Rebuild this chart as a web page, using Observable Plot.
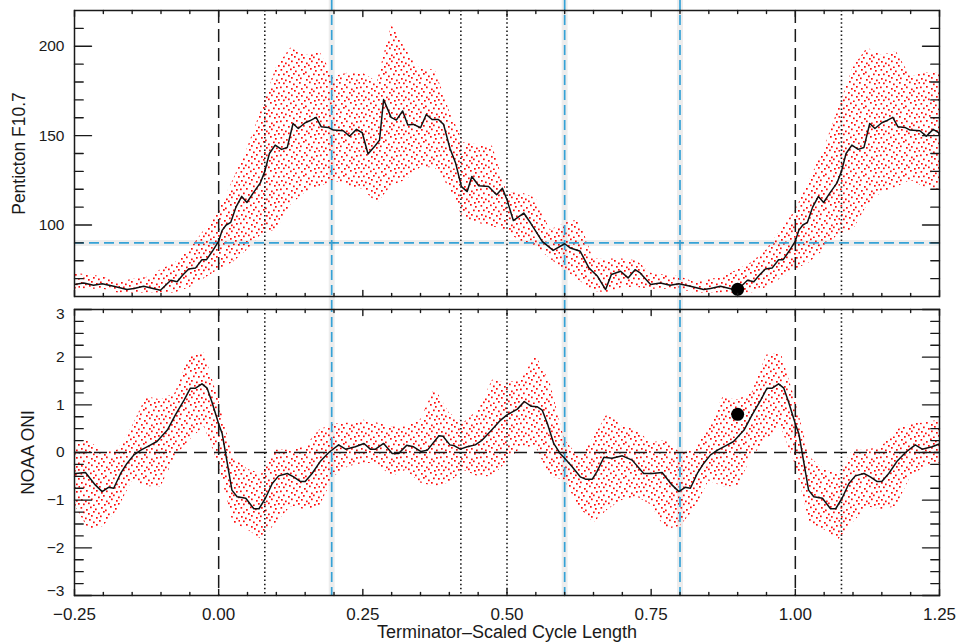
<!DOCTYPE html>
<html>
<head>
<meta charset="utf-8">
<script src="https://cdn.jsdelivr.net/npm/d3@7"></script>
<script src="https://cdn.jsdelivr.net/npm/@observablehq/plot@0.6"></script>
<style>
  body { margin: 0; background: #fff; }
  #chart { position: relative; width: 956px; height: 642px; font-family: "Liberation Sans", Arial, Helvetica, sans-serif; }
  #topPanel { position: absolute; left: 0; top: 0; }
  #bottomPanel { position: absolute; left: 0; top: 302px; }
  svg { overflow: visible; }
</style>
</head>
<body>
<svg id="patternDefs" width="0" height="0" style="position:absolute">
  <defs>
    <pattern id="reddots" patternUnits="userSpaceOnUse" width="40" height="34"></pattern>
  </defs>
</svg>
<div id="chart">
  <div id="topPanel"></div>
  <div id="bottomPanel"></div>
</div>
<script>
// ---------- data (one terminator-scaled cycle, repeated across the axis as in the original) ----------
const fluxPhase = [0.000,0.006,0.013,0.021,0.030,0.040,0.049,0.060,0.072,0.080,0.088,0.098,0.109,0.119,0.129,0.138,0.150,0.158,0.169,0.178,0.190,0.199,0.216,0.227,0.239,0.249,0.259,0.271,0.279,0.286,0.299,0.308,0.319,0.328,0.338,0.350,0.360,0.370,0.381,0.390,0.401,0.411,0.421,0.431,0.439,0.451,0.468,0.482,0.492,0.500,0.511,0.529,0.541,0.561,0.580,0.600,0.610,0.627,0.642,0.657,0.671,0.681,0.697,0.710,0.722,0.731,0.749,0.766,0.783,0.798,0.818,0.841,0.853,0.870,0.888,0.899,0.917,0.928,0.937,0.948,0.960,0.971,0.979,0.989];
const fluxValue = [91,97,100,101.5,110,116,112.6,118,123.4,130,140,144.7,142.3,143.4,156.8,154,157.2,158.3,160.2,154.9,154.6,153.1,152.7,149.7,153.5,151.6,139.7,144.2,147.5,170.2,160.2,158.7,163.8,155.9,156.3,154.4,161.8,159,159,156.3,142.9,134.5,121.5,118.7,127.1,122,121.5,116.9,120.6,114.1,102.5,106.7,101.1,90.8,85.8,89.5,87.1,85.3,76,71.3,63.9,72.3,74.1,70.4,75,73.2,66.7,67.6,66.3,67.1,65.7,63.9,64.5,65.7,64.3,63.5,69.1,68.2,71.7,75.4,76,80.6,80.6,85.3];

const oniPhase = [0.000,0.006,0.015,0.023,0.032,0.047,0.061,0.070,0.081,0.093,0.104,0.119,0.130,0.142,0.150,0.162,0.176,0.191,0.208,0.220,0.237,0.252,0.263,0.272,0.286,0.301,0.312,0.326,0.338,0.351,0.362,0.382,0.389,0.401,0.409,0.419,0.431,0.445,0.457,0.471,0.489,0.500,0.518,0.530,0.542,0.552,0.561,0.570,0.581,0.592,0.600,0.613,0.627,0.636,0.648,0.656,0.668,0.682,0.700,0.717,0.737,0.752,0.769,0.786,0.798,0.809,0.818,0.830,0.841,0.853,0.865,0.879,0.893,0.911,0.925,0.940,0.951,0.960,0.971,0.980,0.988,0.997];
const oniValue = [0.60,0.40,-0.23,-0.79,-0.93,-0.96,-1.18,-1.18,-0.96,-0.65,-0.49,-0.44,-0.51,-0.61,-0.61,-0.44,-0.19,0.00,0.16,0.07,0.12,0.19,0.07,0.07,0.19,-0.02,-0.02,0.15,0.12,0.02,0.05,0.35,0.34,0.16,0.14,0.07,0.12,0.16,0.26,0.44,0.68,0.79,0.91,1.07,0.97,0.96,0.89,0.61,0.19,-0.02,-0.12,-0.30,-0.51,-0.56,-0.56,-0.40,-0.10,-0.12,-0.07,-0.16,-0.44,-0.44,-0.42,-0.68,-0.82,-0.73,-0.75,-0.44,-0.23,-0.05,0.05,0.14,0.23,0.47,0.79,1.10,1.35,1.35,1.44,1.35,1.07,0.72];

// spread of the individual monthly values (red points): upper / lower edge
const spreadPhase = [0.000,0.025,0.050,0.075,0.100,0.125,0.150,0.175,0.200,0.225,0.250,0.275,0.300,0.325,0.350,0.375,0.400,0.425,0.450,0.475,0.500,0.525,0.550,0.575,0.600,0.625,0.650,0.675,0.700,0.725,0.750,0.775,0.800,0.825,0.850,0.875,0.900,0.925,0.950,0.975];
const fluxHigh = [108,125,143,165,188,199,195,197,183,185,185,180,212,198,187,187,164,146,145,144,118,118,115,97,101,103,81,81,81,80,73,72,71,68,69.5,70.6,75,79,86,97];
const fluxLow  = [75,79,86,95,97,111,118,121,125,121,120,112,122,125,132,132,121,103,101,99,97,90,88,81,75,69,63,62,65,65,64,64,64,62,62,62,62,62,65,70];
const oniHigh  = [1.10,-0.10,-0.35,-0.45,0.05,0.05,0.12,0.47,0.60,0.62,0.68,0.62,0.54,0.54,0.68,1.35,0.83,0.62,0.89,1.52,1.46,1.52,2.04,1.46,0.26,-0.09,0.30,0.83,0.54,0.47,0.20,0.25,0.00,0.05,0.54,1.17,1.10,1.25,2.04,2.10];
const oniLow   = [-0.25,-1.48,-1.62,-1.83,-1.48,-1.14,-1.20,-1.14,-0.51,-0.30,-0.23,-0.23,-0.51,-0.37,-0.64,-0.72,-0.64,-0.37,-0.51,-0.51,-0.20,0.10,0.12,-0.51,-0.58,-1.14,-1.48,-1.20,-1.00,-0.93,-1.10,-1.62,-1.55,-1.20,-0.60,-0.72,-0.72,-0.09,0.26,0.54];

// reference lines and highlighted point
const cycleEdgeX = [0, 1];
const dottedX = [0.08, 0.42, 0.50, 1.08];
const blueX = [0.196, 0.60, 0.80];
const blueFluxY = [90];
const nowPhase = 0.90, nowFlux = 64, nowOni = 0.80;

// axis ticks and labels
const xDomain = [-0.25, 1.25];
const xMajorTicks = [-0.25, 0, 0.25, 0.5, 0.75, 1.0, 1.25];
const xMinorTicks = [-0.2,-0.15,-0.1,-0.05,0.05,0.1,0.15,0.2,0.3,0.35,0.4,0.45,0.55,0.6,0.65,0.7,0.8,0.85,0.9,0.95,1.05,1.1,1.15,1.2];
const fluxDomain = [60, 220];
const fluxMajorTicks = [100, 150, 200];
const fluxMinorTicks = [70, 80, 90, 110, 120, 130, 140, 160, 170, 180, 190, 210];
const oniDomain = [-3, 3];
const oniMajorTicks = [-3, -2, -1, 0, 1, 2, 3];
const oniMinorTicks = [-2.75,-2.5,-2.25,-1.75,-1.5,-1.25,-0.75,-0.5,-0.25,0.25,0.5,0.75,1.25,1.5,1.75,2.25,2.5,2.75];
const fluxTitle = "Penticton F10.7";
const oniTitle = "NOAA ONI";
const xTitle = "Terminator\u2013Scaled Cycle Length";

(function () {
// ---------- texture used to render the scatter of red points ----------
const dotTile = [
  [0.5,1],[6,3],[10,0.5],[15,2.5],[21,1],[25,3.5],[30,0],[35,2],
  [3,5.5],[8,7],[13,5],[18,6.5],[23,5],[28,7.5],[33,5.5],[38,6],
  [1,10],[5,11.5],[11,9],[16,11],[20,9.5],[26,11],[31,10],[36,11.5],
  [3,14.5],[9,13],[13,15.5],[19,14],[24,16],[29,13.5],[34,15],[38.5,14],
  [0,18.5],[6,18],[11,20],[16,18],[21,20],[26,18.5],[31,20.5],[36,19],
  [3,22.5],[8,24],[14,22],[18,24.5],[23,23],[29,24],[33,22.5],[38,24.5],
  [1,27],[5,28.5],[11,26.5],[16,28],[21,27],[26,28.5],[31,26.5],[36,28],
  [3,31.5],[8,30.5],[13,32.5],[18,31],[24,32],[28,30.5],[34,32],[38,31]
];
d3.select("#reddots").selectAll("rect").data(dotTile).join("rect")
  .attr("x", d => d[0]).attr("y", d => d[1])
  .attr("width", 1.7).attr("height", 1.7).attr("fill", "#ff0a0a");

// ---------- build tables ----------
function wrapCycle(phases, columns) {
  const rows = [];
  for (const k of [-1, 0, 1]) {
    phases.forEach((p, i) => {
      const x = p + k;
      if (x >= -0.33 && x <= 1.33) {
        const r = {x};
        for (const [key, arr] of Object.entries(columns)) r[key] = arr[i];
        rows.push(r);
      }
    });
  }
  return rows.sort((a, b) => a.x - b.x);
}
const fluxLine = wrapCycle(fluxPhase, {v: fluxValue});
const oniLine = wrapCycle(oniPhase, {v: oniValue});
const fluxSpread = wrapCycle(spreadPhase, {hi: fluxHigh, lo: fluxLow});
const oniSpread = wrapCycle(spreadPhase, {hi: oniHigh, lo: oniLow});

// ---------- styling helpers ----------
const FONT = "Liberation Sans, Arial, Helvetica, sans-serif";
const INK = "#1a1a1a";
const BLUE = "#35a2d6";
const tickShape = {draw(context, l) { context.moveTo(0, 0); context.lineTo(0, -l); }};
function tickMarks(values, frameAnchor, rotate, length, channel) {
  return Plot.vector(values, {
    [channel]: d => d, frameAnchor, rotate, length, anchor: "start",
    shape: tickShape, stroke: INK, strokeWidth: 1.4
  });
}
function xTicks() {
  return [
    tickMarks(xMajorTicks, "bottom", 0, 6, "x"),
    tickMarks(xMinorTicks, "bottom", 0, 3, "x"),
    tickMarks(xMajorTicks, "top", 180, 6, "x"),
    tickMarks(xMinorTicks, "top", 180, 3, "x")
  ];
}
function yTicks(major, minor) {
  return [
    tickMarks(major, "left", 90, 17, "y"),
    tickMarks(minor, "left", 90, 8.7, "y"),
    tickMarks(major, "right", -90, 17, "y"),
    tickMarks(minor, "right", -90, 8.7, "y")
  ];
}
function blueLines(insetTop, insetBottom) {
  return [
    Plot.ruleX(blueX, {stroke: "#000", strokeOpacity: 0.07, strokeWidth: 6, insetTop, insetBottom}),
    Plot.ruleX(blueX, {stroke: BLUE, strokeWidth: 1.7, strokeDasharray: "10,5", insetTop, insetBottom})
  ];
}
function blackRefLines() {
  return [
    Plot.ruleX(cycleEdgeX, {stroke: INK, strokeWidth: 1.5, strokeDasharray: "13,6"}),
    Plot.ruleX(dottedX, {stroke: INK, strokeWidth: 1.6, strokeDasharray: "1.5,2.6"})
  ];
}
const yLabel = (extra) => Object.assign({frameAnchor: "left", dx: -10, textAnchor: "end", lineAnchor: "middle", fontSize: 15.5, fill: INK}, extra);

// ---------- top panel ----------
const topChart = Plot.plot({
  width: 956, height: 302,
  marginTop: 10, marginBottom: 6, marginLeft: 74, marginRight: 17,
  x: {domain: xDomain, axis: null},
  y: {domain: fluxDomain, axis: null},
  style: {fontFamily: FONT, background: "transparent", color: INK, overflow: "visible"},
  marks: [
    Plot.areaY(fluxSpread, {x: "x", y1: "lo", y2: "hi", fill: "url(#reddots)", clip: true}),
    Plot.ruleY(blueFluxY, {stroke: "#000", strokeOpacity: 0.07, strokeWidth: 6}),
    Plot.ruleY(blueFluxY, {stroke: BLUE, strokeWidth: 1.7, strokeDasharray: "10,5"}),
    ...blueLines(-10, -6),
    ...blackRefLines(),
    Plot.line(fluxLine, {x: "x", y: "v", stroke: "#111", strokeWidth: 1.5, clip: true}),
    Plot.dot([{x: nowPhase, y: nowFlux}], {x: "x", y: "y", r: 6.5, fill: "#000", stroke: "none"}),
    Plot.frame({stroke: INK, strokeWidth: 1.5}),
    ...xTicks(),
    ...yTicks(fluxMajorTicks, fluxMinorTicks),
    Plot.text(fluxMajorTicks, yLabel({y: d => d, text: d => String(d)})),
    Plot.text([fluxTitle], {frameAnchor: "left", dx: -55, rotate: -90, textAnchor: "middle", lineAnchor: "middle", text: d => d, fontSize: 17.5, fill: INK})
  ]
});
document.getElementById("topPanel").append(topChart);

// ---------- bottom panel ----------
const fmtInt = d3.format("d");
const fmtX = d3.format(".2f");
const bottomChart = Plot.plot({
  width: 956, height: 340,
  marginTop: 7, marginBottom: 47, marginLeft: 74, marginRight: 17,
  x: {domain: xDomain, axis: null},
  y: {domain: oniDomain, axis: null},
  style: {fontFamily: FONT, background: "transparent", color: INK, overflow: "visible"},
  marks: [
    Plot.areaY(oniSpread, {x: "x", y1: "lo", y2: "hi", fill: "url(#reddots)", clip: true}),
    ...blueLines(-7, 0),
    ...blackRefLines(),
    Plot.ruleY([0], {stroke: INK, strokeWidth: 1.5, strokeDasharray: "13,7"}),
    Plot.line(oniLine, {x: "x", y: "v", stroke: "#111", strokeWidth: 1.5, clip: true}),
    Plot.dot([{x: nowPhase, y: nowOni}], {x: "x", y: "y", r: 6.5, fill: "#000", stroke: "none"}),
    Plot.frame({stroke: INK, strokeWidth: 1.5}),
    ...xTicks(),
    ...yTicks(oniMajorTicks, oniMinorTicks),
    Plot.text(oniMajorTicks.filter(d => Math.abs(d) < 3), yLabel({y: d => d, text: d => fmtInt(d)})),
    Plot.text(oniMajorTicks.filter(d => d === 3), yLabel({y: d => d, dy: 5, text: d => fmtInt(d)})),
    Plot.text(oniMajorTicks.filter(d => d === -3), yLabel({y: d => d, dy: -4, text: d => fmtInt(d)})),
    Plot.text(xMajorTicks, {x: d => d, frameAnchor: "bottom", dy: 18.6, textAnchor: "middle", lineAnchor: "middle", text: d => fmtX(d), fontSize: 17, fill: INK}),
    Plot.text([oniTitle], {frameAnchor: "left", dx: -46, rotate: -90, textAnchor: "middle", lineAnchor: "middle", text: d => d, fontSize: 17.5, fill: INK}),
    Plot.text([xTitle], {frameAnchor: "bottom", dy: 37, textAnchor: "middle", lineAnchor: "middle", text: d => d, fontSize: 18, fill: INK})
  ]
});
document.getElementById("bottomPanel").append(bottomChart);
})();
</script>
</body>
</html>
